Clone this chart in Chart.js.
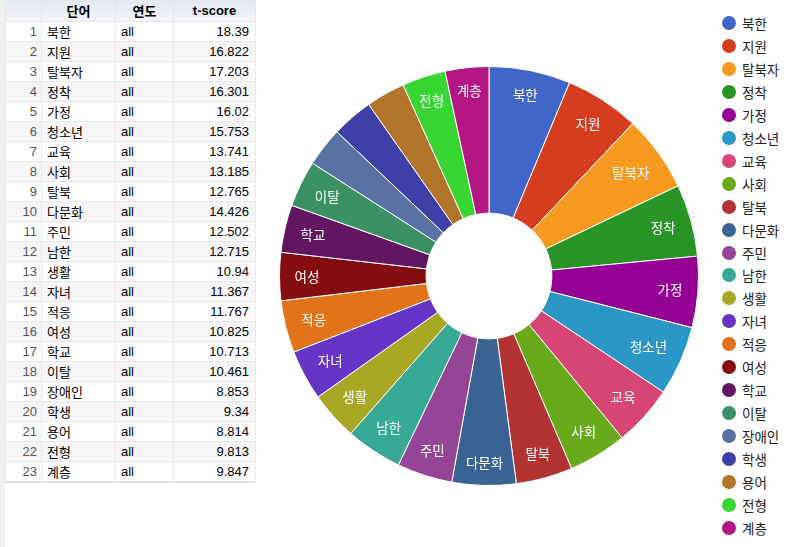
<!DOCTYPE html>
<html>
<head>
<meta charset="utf-8">
<script src="https://cdn.jsdelivr.net/npm/chart.js@4/dist/chart.umd.min.js"></script>
<style>
  html, body { margin:0; padding:0; background:#fff; }
  body { width:795px; height:547px; position:relative; overflow:hidden;
         font-family: Arial, "Liberation Sans", "Noto Sans CJK KR", sans-serif; }
  #strip { position:absolute; left:0; top:0; width:5px; height:547px; background:#efefef; }
  #tbl { position:absolute; left:5px; top:0; border-collapse:collapse; font-size:13px; color:#000;
         table-layout:fixed; width:250px; }
  #tbl th { height:21px; padding:0; font-weight:bold; text-align:center;
            background:linear-gradient(#e3e8f3, #f3f4f8); border:1px solid #e6e6e6; border-top:none; }
  #tbl td { height:19px; padding:0 5px; border:1px solid #e8e8e8; white-space:nowrap; overflow:hidden; }
  #tbl tr.even td { background:#f6f6f6; }
  #tbl td.num { text-align:right; color:#555; padding-right:4px; }
  #tbl td.val { text-align:right; padding-right:6px; }
  #tbl tr:last-child td { border-bottom:2px solid #e2e2e2; }
  #chartBox { position:absolute; left:269px; top:56px; width:440px; height:440px; }
  #legend { position:absolute; left:722px; top:16px; font-family:"Noto Sans CJK KR", sans-serif; font-size:13.5px; color:#222; }
  .li { position:absolute; left:0; height:23px; white-space:nowrap; }
  .dot { position:absolute; left:0; width:14px; height:14px; border-radius:50%; }
  .lt { position:absolute; left:20px; line-height:14px; }
</style>
</head>
<body>
<div id="strip"></div>
<table id="tbl"></table>
<div id="chartBox"><canvas id="c" width="440" height="440"></canvas></div>
<div id="legend"></div>
<script>
const words = ["북한","지원","탈북자","정착","가정","청소년","교육","사회","탈북","다문화","주민","남한","생활","자녀","적응","여성","학교","이탈","장애인","학생","용어","전형","계층"];
const years = ["all","all","all","all","all","all","all","all","all","all","all","all","all","all","all","all","all","all","all","all","all","all","all"];
const tscores = [18.39,16.822,17.203,16.301,16.02,15.753,13.741,13.185,12.765,14.426,12.502,12.715,10.94,11.367,11.767,10.825,10.713,10.461,8.853,9.34,8.814,9.813,9.847];
const headers = ["","단어","연도","t-score"];
const colors = ["#4166c9","#d53d1e","#f89a1f","#2a9527","#930093","#2b97c6","#d84676","#69aa1b","#b33232","#3a6292","#944597","#36a997","#a8a825","#6635c8","#e27319","#850d10","#621662","#3a9164","#5873a3","#3f3fa8","#b2732b","#38d633","#b31682"];

const MIN_LABEL_DEG = 11.8;
const LABEL_FONT = '13.5px "Noto Sans CJK KR", sans-serif';

// table
const tbl = document.getElementById('tbl');
const colW = [36, 74, 58, 82];
let h = '<colgroup>' + colW.map(w=>`<col style="width:${w}px">`).join('') + '</colgroup>';
h += '<tr>' + headers.map(t=>`<th>${t}</th>`).join('') + '</tr>';
words.forEach((w,i)=>{
  h += `<tr class="${i%2? 'even':'odd'}"><td class="num">${i+1}</td><td>${w}</td><td>${years[i]}</td><td class="val">${tscores[i]}</td></tr>`;
});
tbl.innerHTML = h;

// legend
const lg = document.getElementById('legend');
words.forEach((w,i)=>{
  const d = document.createElement('div');
  d.className='li'; d.style.top = (i*22.95)+'px';
  d.innerHTML = `<span class="dot" style="background:${colors[i]}"></span><span class="lt">${w}</span>`;
  lg.appendChild(d);
});

const sliceLabels = {
  id:'sliceLabels',
  afterDatasetsDraw(chart){
    const ctx = chart.ctx;
    const meta = chart.getDatasetMeta(0);
    ctx.save();
    ctx.font = LABEL_FONT;
    ctx.fillStyle = '#fff';
    ctx.textAlign = 'center';
    ctx.textBaseline = 'middle';
    meta.data.forEach((arc,i)=>{
      const p = arc.getProps(['startAngle','endAngle','outerRadius','x','y'], true);
      const span = p.endAngle - p.startAngle;
      if (span*180/Math.PI < MIN_LABEL_DEG) return;
      const mid = (p.startAngle + p.endAngle)/2;
      const hw = ctx.measureText(words[i]).width/2, hh = 7;
      const c = Math.cos(mid), s = Math.sin(mid);
      const d = p.outerRadius - 15 - (Math.abs(c)*hw + Math.abs(s)*hh);
      ctx.fillText(words[i], p.x + d*c, p.y + d*s);
    });
    ctx.restore();
  }
};

new Chart(document.getElementById('c'), {
  type:'doughnut',
  data:{ labels: words, datasets:[{ data: tscores, backgroundColor: colors, borderColor:'#ffffff', borderWidth:1 }] },
  options:{
    responsive:false, animation:false, cutout:'30%',
    layout:{ padding:10 },
    plugins:{ legend:{display:false}, tooltip:{enabled:false} }
  },
  plugins:[sliceLabels]
});
</script>
</body>
</html>
